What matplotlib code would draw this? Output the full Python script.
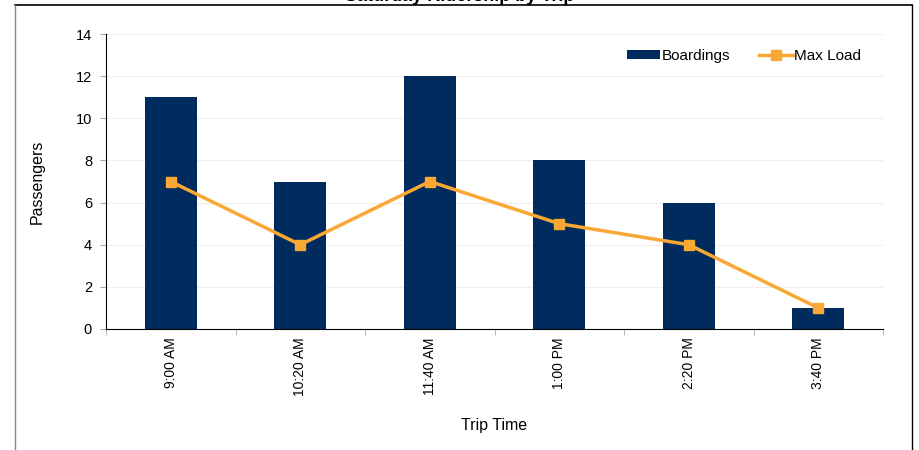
import matplotlib
matplotlib.use("Agg")
import matplotlib.pyplot as plt
from matplotlib.lines import Line2D
import numpy as np

plt.rcParams['font.family'] = ['Liberation Sans', 'DejaVu Sans']

trip_times = ["9:00 AM", "10:20 AM", "11:40 AM", "1:00 PM", "2:20 PM", "3:40 PM"]
boardings = [11, 7, 12, 8, 6, 1]
max_load = [7, 4, 7, 5, 4, 1]
y_ticks = [0, 2, 4, 6, 8, 10, 12, 14]

fig = plt.figure(figsize=(9.19, 4.5), dpi=100)
ax = fig.add_axes([106/919, 1-329/450, (883-106)/919, (329-34)/450])

x = np.arange(len(trip_times))
bars = ax.bar(x, boardings, width=0.4, color="#002B5E", label="Boardings", zorder=2)
line, = ax.plot(x, max_load, color="#F9A833", linewidth=2.5, marker="s", markersize=6.5,
                label="Max Load", zorder=3)

ax.set_xlim(-0.5, len(trip_times) - 0.5)
ax.set_ylim(0, 14)
ax.set_yticks(y_ticks)
ax.yaxis.grid(True, color="#EEEEEE", linewidth=0.8, zorder=0)
ax.set_axisbelow(True)

ax.set_xticks(x)
ax.set_xticklabels(trip_times, rotation=90, fontsize=10)
ax.set_xticks(np.arange(len(trip_times) + 1) - 0.5, minor=True)
ax.tick_params(axis='x', which='major', length=0, pad=6)
ax.tick_params(axis='x', which='minor', length=4, color="#AAAAAA")
ax.tick_params(axis='y', length=4, color="#AAAAAA", labelsize=10.5, pad=6)

for s in ["top", "right"]:
    ax.spines[s].set_visible(False)
ax.spines["left"].set_color("black")
ax.spines["bottom"].set_color("black")

ax.set_ylabel("Passengers", fontsize=11.5, labelpad=22)
ax.set_xlabel("Trip Time", fontsize=11.5, labelpad=16)

ax.legend([bars, line], ["Boardings", "Max Load"], loc="upper right", ncol=2,
          frameon=False, fontsize=11, handlelength=2.2, handleheight=0.5,
          handletextpad=0.1, columnspacing=1.9,
          bbox_to_anchor=(0.99, 0.995))

fig.text(0.5, 1.0 - 1/450, "Saturday Ridership by Trip", ha="center", va="baseline",
         fontsize=13, fontweight="bold")

fig.add_artist(Line2D([15/919, 912/919], [1-5/450, 1-5/450], color="black", linewidth=1.2))
fig.add_artist(Line2D([15/919, 15/919], [0, 1-5/450], color="#888888", linewidth=1))
fig.add_artist(Line2D([912/919, 912/919], [0, 1-5/450], color="black", linewidth=1))

fig.savefig("out.png", dpi=100)
